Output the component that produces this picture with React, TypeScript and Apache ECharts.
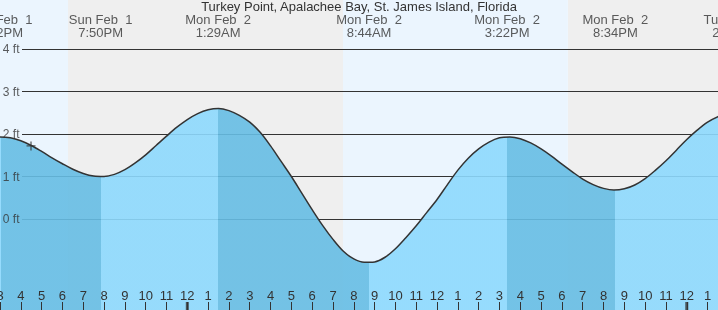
import React, { useEffect, useRef } from "react";
import * as echarts from "echarts";

const TITLE = "Turkey Point, Apalachee Bay, St. James Island, Florida";
const FONT = "'Liberation Sans', Arial, Helvetica, sans-serif";

// time axis: hours since Sun Feb 1, 3 PM (half-hourly readings of the tide curve, ft)
const readTimes = [
  -1, -0.5, 0, 0.5, 1, 1.5, 2, 2.5, 3, 3.5, 4, 4.5, 5, 5.5, 6, 6.5, 7, 7.5, 8, 8.5, 9, 9.5,
  10, 10.5, 11, 11.5, 12, 12.5, 13, 13.5, 14, 14.5, 15, 15.5, 16, 16.5, 17, 17.5, 18, 18.5, 19, 19.5,
  20, 20.5, 21, 21.5, 22, 22.5, 23, 23.5, 24, 24.5, 25, 25.5, 26, 26.5, 27, 27.5, 28, 28.5, 29, 29.5,
  30, 30.5, 31, 31.5, 32, 32.5, 33, 33.5, 34, 34.5, 35, 35.5,
];
const readHeights = [
  1.86, 1.91, 1.93, 1.91, 1.84, 1.73, 1.59, 1.44, 1.30, 1.17, 1.07, 1.01, 1.00, 1.05, 1.16, 1.32, 1.51, 1.73, 1.95, 2.16, 2.34, 2.48,
  2.57, 2.60, 2.55, 2.44, 2.28, 2.04, 1.72, 1.36, 1.00, 0.61, 0.22, -0.15, -0.48, -0.76, -0.94, -1.02, -1.01, -0.90, -0.70, -0.44,
  -0.16, 0.15, 0.46, 0.81, 1.15, 1.43, 1.65, 1.81, 1.91, 1.93, 1.89, 1.79, 1.65, 1.48, 1.29, 1.11, 0.94, 0.81, 0.72, 0.68,
  0.71, 0.80, 0.95, 1.15, 1.37, 1.62, 1.87, 2.09, 2.28, 2.41, 2.49, 2.49,
];

const extremeTimes = [0.033, 4.833, 10.483, 17.733, 24.367, 29.567, 35.3];
const extremeHeights = [1.93, 1.0, 2.6, -1.03, 1.93, 0.68, 2.5];
const extremeLabels = [
  "Sun Feb  1\n3:02PM",
  "Sun Feb  1\n7:50PM",
  "Mon Feb  2\n1:29AM",
  "Mon Feb  2\n8:44AM",
  "Mon Feb  2\n3:22PM",
  "Mon Feb  2\n8:34PM",
  "Tue Feb  3\n2:18AM",
];

const bandStarts = [0, 3.27, 16.48, 27.29];
const bandEnds = [3.27, 16.48, 27.29, 34.5];
const bandKinds = ["day", "night", "day", "night"];

const hourLabels = ["3", "4", "5", "6", "7", "8", "9", "10", "11", "12", "1", "2", "3", "4", "5", "6", "7", "8", "9", "10", "11", "12", "1", "2", "3", "4", "5", "6", "7", "8", "9", "10", "11", "12", "1"];
const midnightTimes = [9, 33];
const gridLevels = [4, 3, 2, 1, 0];
const nowTime = 1.49;
const nowHeight = 1.72;

const X_MIN = 0;
const X_MAX = 34.5;
const Y_MIN = -91 / 42.5;
const Y_MAX = 219 / 42.5;
const GRID_LINE_START = 22 / (718 / X_MAX);
const SMOOTH = 0.33;

const COLORS = {
  day: "#ebf5fe",
  night: "#efefef",
  falling: "#66bde4",
  rising: "#8dd9fd",
  ink: "#333333",
};

function buildOption() {
  const curveData = readTimes.map((t, i) => [t, readHeights[i]]);

  const pieces: any[] = [];
  pieces.push({ lt: extremeTimes[0], color: COLORS.rising });
  for (let i = 0; i < extremeTimes.length - 1; i++) {
    const falling = extremeHeights[i] > extremeHeights[i + 1];
    pieces.push({ gte: extremeTimes[i], lt: extremeTimes[i + 1], color: falling ? COLORS.falling : COLORS.rising });
  }
  pieces.push({ gte: extremeTimes[extremeTimes.length - 1], color: COLORS.falling });

  return {
    animation: false,
    textStyle: { fontFamily: FONT },
    title: {
      text: TITLE,
      left: "center",
      top: 0,
      padding: 0,
      textStyle: { fontSize: 13, fontWeight: "normal", color: COLORS.ink, fontFamily: FONT, lineHeight: 13 },
    },
    grid: { left: 0, right: 0, top: 0, bottom: 0, containLabel: false, outerBoundsMode: "none" },
    xAxis: {
      type: "value",
      min: X_MIN,
      max: X_MAX,
      interval: 1,
      z: 10,
      axisLine: { show: false, onZero: false },
      splitLine: { show: false },
      axisTick: { show: true, inside: true, length: 8, lineStyle: { color: COLORS.ink, width: 1 } },
      axisLabel: {
        inside: true,
        margin: 8,
        fontSize: 13,
        color: COLORS.ink,
        fontFamily: FONT,
        showMinLabel: true,
        showMaxLabel: false,
        hideOverlap: false,
        formatter: (v: number) => {
          if (Math.abs(v - Math.round(v)) > 1e-6) return "";
          return hourLabels[Math.round(v)] ?? "";
        },
      },
    },
    yAxis: { type: "value", min: Y_MIN, max: Y_MAX, show: false },
    visualMap: {
      type: "piecewise",
      show: false,
      dimension: 0,
      seriesIndex: 2,
      pieces,
    },
    series: [
      {
        type: "line",
        data: [[X_MIN, Y_MIN]],
        symbol: "none",
        lineStyle: { width: 0 },
        silent: true,
        z: 0,
        markArea: {
          silent: true,
          z: 0,
          data: bandStarts.map((s, i) => [
            { xAxis: s, itemStyle: { color: bandKinds[i] === "day" ? COLORS.day : COLORS.night } },
            { xAxis: bandEnds[i] },
          ]),
        },
      },
      {
        type: "line",
        data: [[X_MIN, Y_MIN]],
        symbol: "none",
        lineStyle: { width: 0 },
        silent: true,
        z: 1,
        markLine: {
          silent: true,
          z: 1,
          symbol: ["none", "none"],
          label: { show: false },
          lineStyle: { color: COLORS.ink, width: 1, type: "solid" },
          data: gridLevels.map((v) => [{ coord: [GRID_LINE_START, v] }, { coord: [X_MAX, v] }]),
        },
      },
      {
        type: "line",
        data: curveData,
        smooth: SMOOTH,
        symbol: "none",
        lineStyle: { width: 0 },
        areaStyle: { origin: "start", opacity: 0.9 },
        silent: true,
        z: 2,
      },
      {
        type: "line",
        data: curveData,
        smooth: SMOOTH,
        symbol: "none",
        lineStyle: { color: COLORS.ink, width: 1.5 },
        silent: true,
        z: 3,
      },
      {
        type: "scatter",
        data: gridLevels.map((v) => [GRID_LINE_START, v]),
        symbolSize: 1,
        itemStyle: { color: "rgba(0,0,0,0)" },
        label: {
          show: true,
          position: "left",
          distance: 2,
          fontSize: 12,
          color: COLORS.ink,
          fontFamily: FONT,
          formatter: (p: any) => `${p.value[1]} ft`,
        },
        silent: true,
        clip: false,
        z: 4,
      },
      {
        type: "scatter",
        data: extremeTimes.map((t, i) => ({ value: [t, Y_MAX], label: { formatter: extremeLabels[i] } })),
        symbolSize: 1,
        itemStyle: { color: "rgba(0,0,0,0)" },
        label: {
          show: true,
          position: "bottom",
          distance: 13,
          align: "center",
          fontSize: 13,
          lineHeight: 12.5,
          color: COLORS.ink,
          fontFamily: FONT,
        },
        silent: true,
        clip: false,
        z: 4,
      },
      {
        type: "scatter",
        data: midnightTimes.map((t) => [t, Y_MIN]),
        symbol: "rect",
        symbolSize: [3, 8],
        symbolOffset: [0, -4],
        itemStyle: { color: COLORS.ink },
        silent: true,
        clip: false,
        z: 11,
      },
      {
        type: "scatter",
        data: [[nowTime, nowHeight]],
        symbol: "path://M4.3,0H5.7V10H4.3ZM0,4.3H10V5.7H0Z",
        symbolSize: 9,
        itemStyle: { color: COLORS.ink },
        silent: true,
        z: 5,
      },
    ],
  };
}

export default function App() {
  const ref = useRef<HTMLDivElement>(null);
  useEffect(() => {
    if (!ref.current) return;
    const chart = echarts.init(ref.current, null, { renderer: "svg" });
    chart.setOption(buildOption() as any);
    return () => chart.dispose();
  }, []);
  return <div ref={ref} style={{ position: "fixed", left: 0, top: 0, width: 718, height: 310 }} />;
}
